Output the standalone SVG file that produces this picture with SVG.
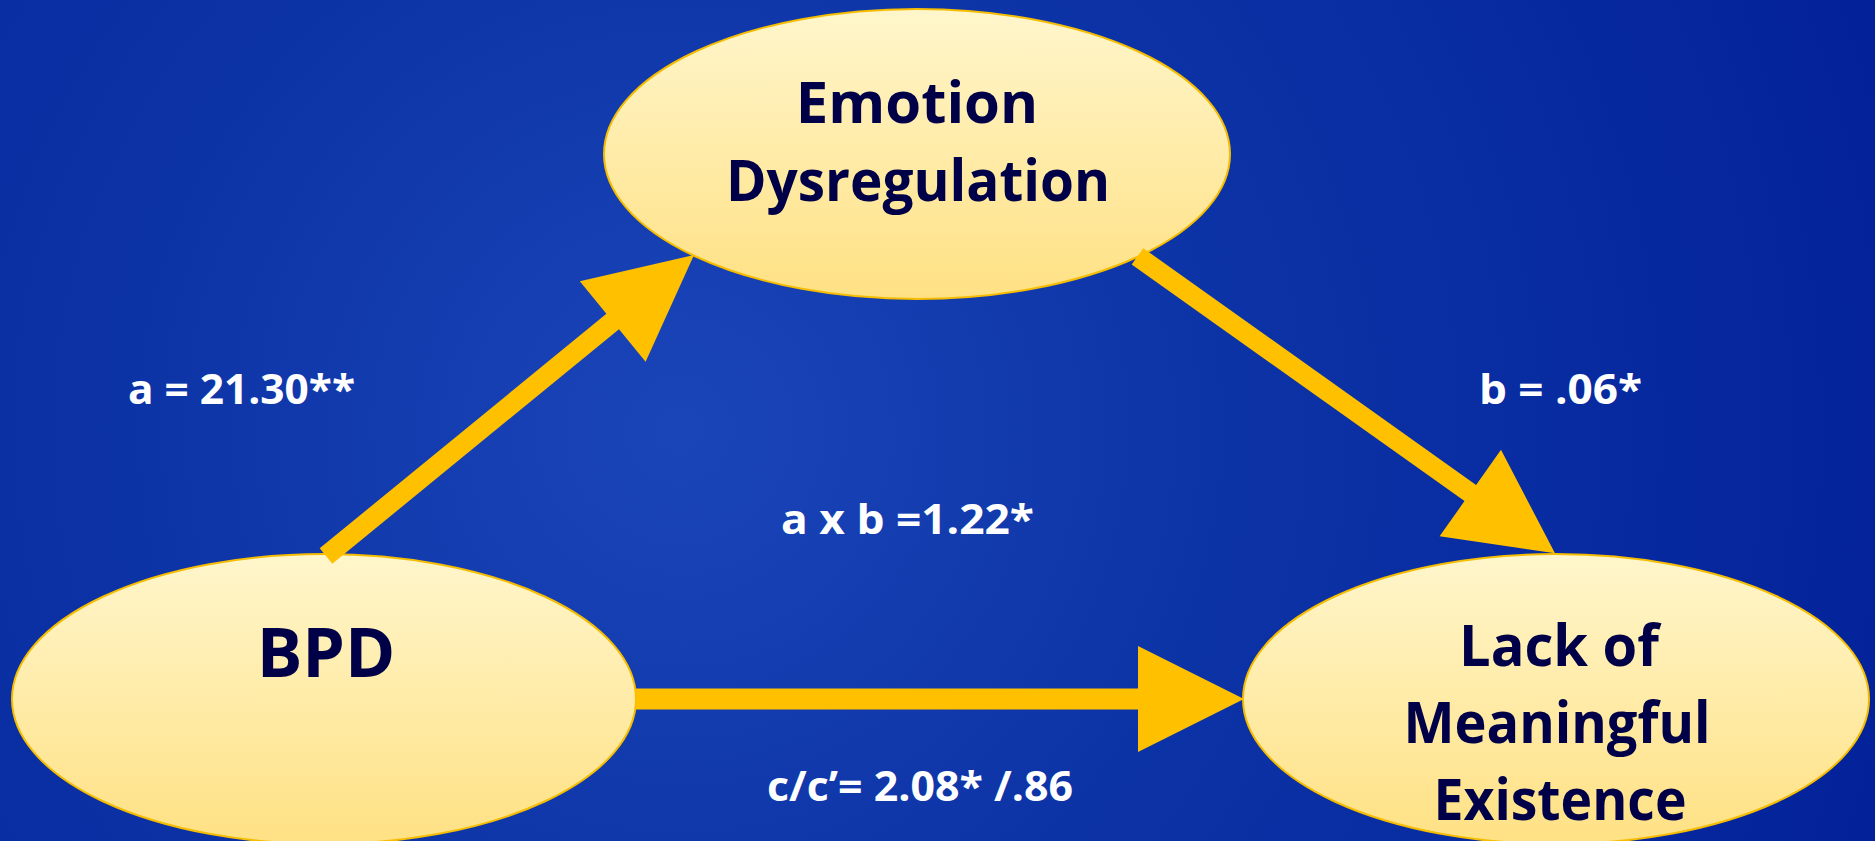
<svg xmlns="http://www.w3.org/2000/svg" width="1875" height="841" viewBox="0 0 1875 841">
  <defs>
    <radialGradient id="bg" gradientUnits="userSpaceOnUse" cx="680" cy="430" r="1250">
      <stop offset="0" stop-color="#1A45B8"/>
      <stop offset="0.45" stop-color="#0C33A6"/>
      <stop offset="1" stop-color="#03229A"/>
    </radialGradient>
    <linearGradient id="nodeFill" x1="0" y1="0" x2="0" y2="1">
      <stop offset="0" stop-color="#FFF6CC"/>
      <stop offset="1" stop-color="#FFE184"/>
    </linearGradient>
  </defs>
  <style>
    .node { fill: url(#nodeFill); stroke: #F5BC00; stroke-width: 2; }
    .ntext { font-family: "Open Sans", "Liberation Sans", sans-serif; font-weight: 700; fill: #000048; text-anchor: middle; }
    .label { font-family: "Open Sans", "Liberation Sans", sans-serif; font-weight: 700; fill: #FFFFFF; font-size: 42px; }
    .arrow { fill: #FFC000; }
  </style>
  <rect x="0" y="0" width="1875" height="841" fill="url(#bg)"/>

  <g id="node-emotion">
    <ellipse class="node" cx="917" cy="154" rx="313" ry="145"/>
    <text class="ntext" x="917" y="123" font-size="58">Emotion</text>
    <text class="ntext" x="918" y="201" font-size="58" textLength="384" lengthAdjust="spacingAndGlyphs">Dysregulation</text>
  </g>
  <g id="node-bpd">
    <ellipse class="node" cx="324" cy="699" rx="312" ry="145"/>
    <text class="ntext" x="326" y="677" font-size="68">BPD</text>
  </g>
  <g id="node-lack">
    <ellipse class="node" cx="1556" cy="699" rx="313" ry="145"/>
    <text class="ntext" x="1559" y="666" font-size="58" textLength="200" lengthAdjust="spacingAndGlyphs">Lack of</text>
    <text class="ntext" x="1557" y="743" font-size="58" textLength="307" lengthAdjust="spacingAndGlyphs">Meaningful</text>
    <text class="ntext" x="1560" y="820" font-size="58" textLength="253" lengthAdjust="spacingAndGlyphs">Existence</text>
  </g>

  <g id="connectors">
    <polygon class="arrow" points="332.3,563.7 619.0,329.2 645.6,361.7 694,255 579.8,281.3 606.4,313.8 319.7,548.3"/>
    <polygon class="arrow" points="1143.3,248.2 1476.1,484.9 1501.0,449.8 1555,553.3 1439.6,536.2 1464.5,501.1 1131.7,264.4"/>
    <polygon class="arrow" points="636,688.5 1138,688.5 1138,646 1244,699 1138,752 1138,709.5 636,709.5"/>
  </g>

  <g id="labels">
    <text class="label" x="128" y="404" textLength="227" lengthAdjust="spacingAndGlyphs">a = 21.30**</text>
    <text class="label" x="1479" y="404" textLength="163" lengthAdjust="spacingAndGlyphs">b = .06*</text>
    <text class="label" x="781" y="534" textLength="253" lengthAdjust="spacingAndGlyphs">a x b =1.22*</text>
    <text class="label" x="767" y="801" textLength="306" lengthAdjust="spacingAndGlyphs">c/c’= 2.08* /.86</text>
  </g>
</svg>
